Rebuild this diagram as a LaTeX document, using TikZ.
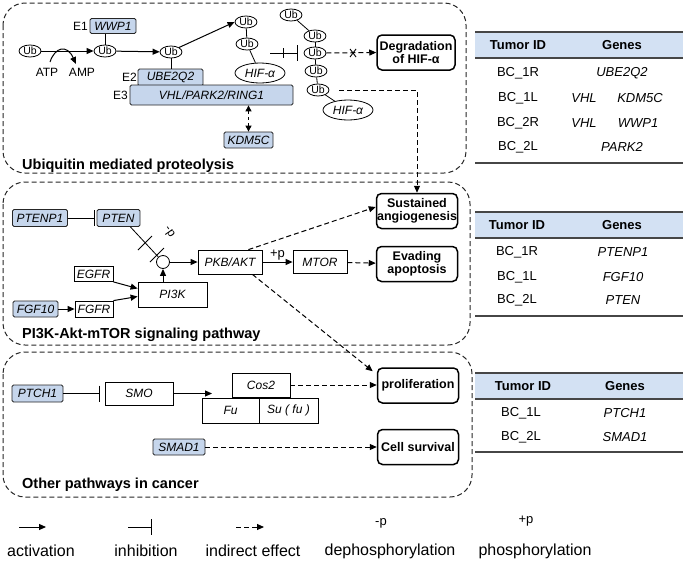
\documentclass[tikz,border=0pt]{standalone}
\usepackage{fontspec}
\setmainfont{Liberation Sans}
\usetikzlibrary{arrows.meta,shapes.geometric}
\definecolor{genebl}{RGB}{198,214,236}
\definecolor{hdrbl}{RGB}{211,225,243}
\definecolor{rulec}{RGB}{70,70,70}
\newcommand{\myfs}[1]{\fontsize{#1}{#1}\selectfont}
\begin{document}
\begin{tikzpicture}[x=1pt,y=-1pt,
  ub/.style={ellipse, draw, line width=0.8pt, inner sep=0pt, minimum width=22pt, minimum height=12pt, font=\myfs{10.5}},
  hif/.style={ellipse, draw, line width=0.8pt, inner sep=0pt, minimum width=50pt, minimum height=20pt, font=\itshape\myfs{12}},
  gene/.style={draw=black!85, fill=genebl, line width=0.8pt, rounded corners=1.5pt, inner sep=0pt, font=\itshape\myfs{12}},
  wbox/.style={draw, line width=0.8pt, inner sep=0pt, font=\itshape\myfs{12}},
  outb/.style={draw, line width=1.5pt, rounded corners=5pt, inner sep=0pt, minimum width=81pt, minimum height=35pt, align=center, font=\bfseries\myfs{12.5}},
  panel/.style={draw=black!85, line width=1pt, dash pattern=on 5pt off 3pt, rounded corners=22pt},
  act/.style={line width=1pt, -{Triangle[length=7pt,width=6pt]}},
  inh/.style={line width=1pt, -{Bar[width=16pt, line width=1pt]}},
  ind/.style={line width=1pt, dash pattern=on 5pt off 3pt, -{Triangle[length=7pt,width=6pt]}},
  lnk/.style={line width=0.8pt},
  ttl/.style={anchor=west, font=\bfseries\myfs{14.5}, inner sep=0pt},
  lbl/.style={font=\myfs{12}, inner sep=0pt},
  tbl/.style={font=\myfs{13}, inner sep=0pt},
  tgene/.style={font=\itshape\myfs{13}, inner sep=0pt},
  thdr/.style={font=\bfseries\myfs{13}, inner sep=0pt},
  leg/.style={font=\myfs{16}, inner sep=0pt}
]
\useasboundingbox (0,0) rectangle (685,565);

% ---------- panels ----------
\draw[panel] (3,3) rectangle (466,173);
\draw[panel] (3,182) rectangle (470,345);
\draw[panel] (3,352) rectangle (472,497);

% ---------- panel 1 ----------
\node[ub] (u1) at (30,51) {Ub};
\node[ub] (u2) at (105,51) {Ub};
\node[ub] (u3) at (171,52) {Ub};
\node[ub] (u4) at (246,22) {Ub};
\node[ub] (u5) at (247,44) {Ub};
\node[hif] (h1) at (260,73) {HIF-α};
\node[ub] (ua) at (291,15) {Ub};
\node[ub] (ub) at (315,36) {Ub};
\node[ub] (uc) at (315,53) {Ub};
\node[ub] (ud) at (316,71) {Ub};
\node[ub] (ue) at (318,90) {Ub};
\node[hif] (h2) at (348,110) {HIF-α};

\node[gene, minimum width=46pt, minimum height=15pt] (wwp1) at (113,26) {WWP1};
\node[lbl, anchor=east] (e1) at (88,26) {E1};
\node[gene, minimum width=65pt, minimum height=17pt] (ube) at (170.5,77.5) {UBE2Q2};
\node[lbl, anchor=east] (e2) at (137,77) {E2};
\node[gene, minimum width=163pt, minimum height=20pt] (e3b) at (211.5,95) {VHL/PARK2/RING1};
\node[lbl, anchor=east] (e3) at (128,95) {E3};
\node[gene, minimum width=49pt, minimum height=16pt] (kdm) at (248.5,140) {KDM5C};

\node[lbl] (atp) at (47,72) {ATP};
\node[lbl] (amp) at (82,72) {AMP};

\node[outb, minimum width=78pt] (deg) at (416,52.5) {Degradation\\[1pt]of HIF-α};

\draw[act] (u1) -- (u2);
\draw[act] (u2) -- (u3);
\draw[act] (50,62) .. controls (55,47) and (67,44) .. (76,64);
\draw[lnk] (u2.north) -- (u2.north |- wwp1.south);
\draw[lnk] (u3.south) -- (u3.south |- ube.north);
\draw[act] (u3.north east) -- (u4.west);
\draw[lnk] (u4) -- (u5);
\draw[lnk] (u5) -- (h1);
\draw[lnk] (ua) -- (ub);
\draw[lnk] (ub) -- (uc);
\draw[lnk] (uc) -- (ud);
\draw[lnk] (ud) -- (ue);
\draw[lnk] (ue) -- (h2);

\coordinate (is) at (270,53);
\coordinate (ie) at (298,53);
\draw[inh] (is) -- (ie);
\draw[line width=1pt] (283,48) -- (283,58);

\draw[ind] (uc.east) -- (deg.west);
\draw[line width=0.9pt] (350,49) -- (356,57) (350,57) -- (356,49);

\draw[line width=1pt, dash pattern=on 3pt off 3pt, {Triangle[length=6pt,width=6pt]}-{Triangle[length=6pt,width=6pt]}] (e3b.south -| kdm.north) -- (kdm.north);

\node[ttl] (t1) at (22,166) {Ubiquitin mediated proteolysis};

% ---------- panel 2 ----------
\node[gene, minimum width=55pt, minimum height=17pt] (ptenp1) at (40,218) {PTENP1};
\node[gene, minimum width=43pt, minimum height=17pt] (pten) at (118.5,218) {PTEN};
\node[circle, draw, line width=0.8pt, minimum size=13pt, inner sep=0pt] (cir) at (163,262) {};
\node[wbox, minimum width=64pt, minimum height=24pt] (pkb) at (230,262) {PKB/AKT};
\node[wbox, minimum width=69pt, minimum height=25pt] (pi3k) at (172.5,294.5) {PI3K};
\node[wbox, minimum width=39pt, minimum height=15pt] (egfr) at (93.5,274) {EGFR};
\node[gene, minimum width=45pt, minimum height=16pt] (fgf10) at (35.5,309) {FGF10};
\node[wbox, minimum width=38pt, minimum height=16pt] (fgfr) at (94,309) {FGFR};
\node[wbox, minimum width=54pt, minimum height=23pt] (mtor) at (320,262) {MTOR};
\node[outb] (sust) at (417,211) {Sustained\\[1pt]angiogenesis};
\node[outb] (evad) at (417,264) {Evading\\[1pt]apoptosis};

\draw[inh] (ptenp1.east) -- ([xshift=-2pt]pten.west);
\draw[lnk] ([xshift=-10pt]pten.south east) -- (cir);
\draw[line width=0.9pt] (138,250) -- (152,236);
\draw[line width=0.9pt] (150,262) -- (164,248);
\node[font=\myfs{12}, inner sep=0pt, rotate=-55] (dp) at (169,232) {-p};
\draw[act] (cir) -- (pkb);
\draw[act] (cir.south |- pi3k.north) -- (cir.south);
\draw[act] (egfr.south east) -- ([yshift=6pt]pi3k.west);
\draw[act] (fgf10) -- (fgfr);
\draw[act] (fgfr.north east) -- ([yshift=-2pt]pi3k.west);
\draw[act] (pkb) -- (mtor) node[midway, above=1pt, font=\myfs{13}, inner sep=0pt] (pp) {+p};
\draw[ind] (mtor) -- (evad);
\draw[ind] ([xshift=-14pt]pkb.north east) -- ([yshift=4pt]sust.west);

\node[ttl] (t2) at (22,335) {PI3K-Akt-mTOR signaling pathway};

% ---------- panel 3 ----------
\node[gene, minimum width=51pt, minimum height=17pt] (ptch1) at (37.5,393.5) {PTCH1};
\node[wbox, minimum width=68pt, minimum height=23pt] (smo) at (139,393.5) {SMO};
\node[wbox, minimum width=58pt, minimum height=24pt] (cos2) at (261,385) {Cos2};
\node[wbox, minimum width=57pt, minimum height=25pt] (fu) at (230.5,410.5) {Fu};
\node[wbox, minimum width=59pt, minimum height=25pt] (sufu) at (288.5,410.5) {Su ( fu )};
\node[gene, minimum width=52pt, minimum height=16pt] (smad1) at (179,447) {SMAD1};
\node[outb] (prolif) at (418,385.5) {proliferation};
\node[outb] (cells) at (418,447) {Cell survival};
\coordinate (fj) at (212,393.5);

\draw[inh] (ptch1.east) -- ([xshift=-5pt]smo.west);
\draw[act] (smo.east) -- (fj);
\draw[ind] (cos2.east) -- (prolif.west |- cos2.east);
\draw[ind] (smad1) -- (cells);
\draw[ind] ([xshift=-10pt]pkb.south east) -- ([xshift=-4pt,yshift=-4pt]prolif.north west);
\draw[ind, shorten <=10pt] (ue.east) -| (sust.north);

\node[ttl] (t3) at (22,485) {Other pathways in cancer};

% ---------- table 1 ----------
\fill[hdrbl] (475,32) rectangle (683,58);
\draw[rulec, line width=1.6pt] (475,32) -- (683,32);
\draw[rulec, line width=1.2pt] (475,58) -- (683,58);
\draw[rulec, line width=1.6pt] (475,163) -- (683,163);
\node[thdr] (a0) at (518,45) {Tumor ID};
\node[thdr] (a1) at (622,45) {Genes};
\node[tbl] (a2) at (518,73) {BC\_1R};
\node[tgene] (a3) at (622,73) {UBE2Q2};
\node[tbl] (a4) at (518,98) {BC\_1L};
\node[tgene] (a5) at (584,98) {VHL};
\node[tgene] (a6) at (640,98) {KDM5C};
\node[tbl] (a7) at (518,123) {BC\_2R};
\node[tgene] (a8) at (584,123) {VHL};
\node[tgene] (a9) at (638,123) {WWP1};
\node[tbl] (a10) at (518,147) {BC\_2L};
\node[tgene] (a11) at (622,147) {PARK2};

% ---------- table 2 ----------
\fill[hdrbl] (475,212) rectangle (683,238);
\draw[rulec, line width=1.6pt] (475,212) -- (683,212);
\draw[rulec, line width=1.2pt] (475,238) -- (683,238);
\draw[rulec, line width=1.6pt] (475,316) -- (683,316);
\node[thdr] (b0) at (517,225) {Tumor ID};
\node[thdr] (b1) at (622,225) {Genes};
\node[tbl] (b2) at (517,252) {BC\_1R};
\node[tgene] (b3) at (623,252) {PTENP1};
\node[tbl] (b4) at (517,277) {BC\_1L};
\node[tgene] (b5) at (623,277) {FGF10};
\node[tbl] (b6) at (517,300) {BC\_2L};
\node[tgene] (b7) at (623,300) {PTEN};

% ---------- table 3 ----------
\fill[hdrbl] (475,373) rectangle (683,399);
\draw[rulec, line width=1.6pt] (475,373) -- (683,373);
\draw[rulec, line width=1.2pt] (475,399) -- (683,399);
\draw[rulec, line width=1.6pt] (475,452) -- (683,452);
\node[thdr] (c0) at (523,386) {Tumor ID};
\node[thdr] (c1) at (625,386) {Genes};
\node[tbl] (c2) at (521,413) {BC\_1L};
\node[tgene] (c3) at (625,413) {PTCH1};
\node[tbl] (c4) at (521,437) {BC\_2L};
\node[tgene] (c5) at (625,437) {SMAD1};

% ---------- legend ----------
\coordinate (l1a) at (19,527); \coordinate (l1b) at (46,527);
\coordinate (l2a) at (128,527); \coordinate (l2b) at (152,527);
\coordinate (l3a) at (236,527); \coordinate (l3b) at (264,527);
\draw[act] (l1a) -- (l1b);
\draw[inh] (l2a) -- (l2b);
\draw[ind] (l3a) -- (l3b);
\node[font=\myfs{13}, inner sep=0pt] (lm) at (381,523) {-p};
\node[font=\myfs{13}, inner sep=0pt] (lp) at (526,521) {+p};
\node[leg] (g1) at (41,551) {activation};
\node[leg] (g2) at (146,551) {inhibition};
\node[leg] (g3) at (253,551) {indirect effect};
\node[leg] (g4) at (390,551) {dephosphorylation};
\node[leg] (g5) at (535,551) {phosphorylation};
\end{tikzpicture}
\end{document}
